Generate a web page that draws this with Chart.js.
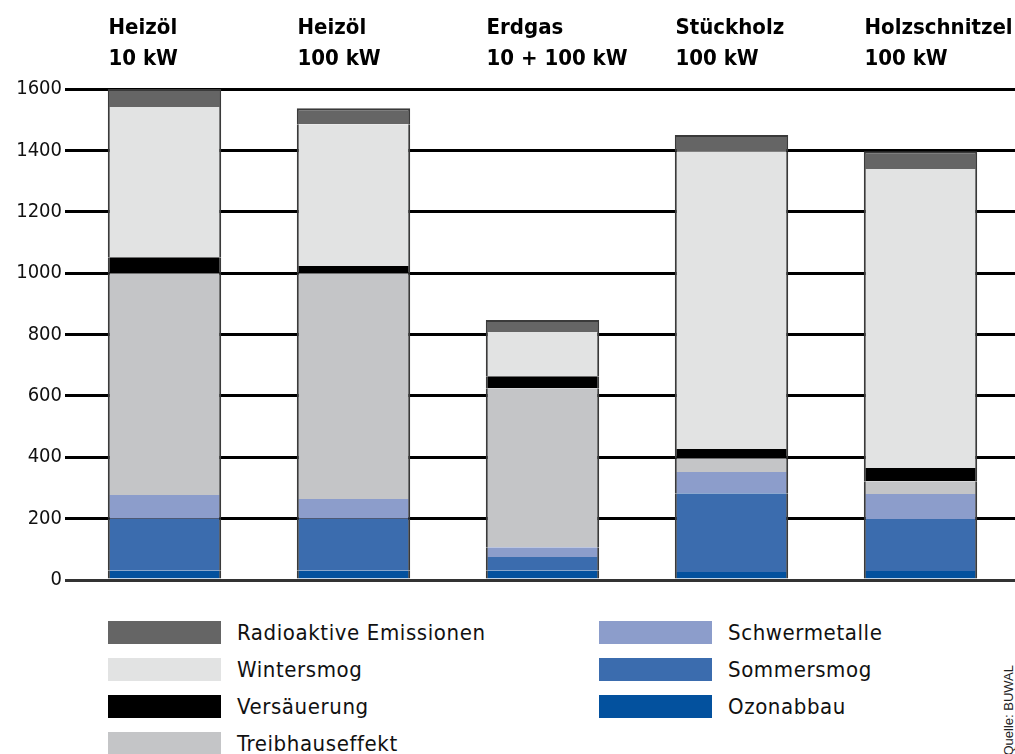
<!DOCTYPE html>
<html>
<head>
<meta charset="utf-8">
<script src="https://cdn.jsdelivr.net/npm/chart.js@4"></script>
<style>
  body { margin: 0; background: #fff; }
  #wrap { position: relative; width: 1015px; height: 754px; overflow: hidden; font-family: "DejaVu Sans Condensed", "Liberation Sans Narrow", "DejaVu Sans", sans-serif; }
  #chartBox { position: absolute; left: 0; top: 0; width: 1015px; height: 596px; }
  .item { position: absolute; display: flex; align-items: center; font-size: 22px; color: #111; letter-spacing: 0.6px; white-space: nowrap; }
  .sw { width: 113px; height: 23px; margin-right: 16px; flex: none; }
  #src { position: absolute; right: -1px; bottom: -2px; writing-mode: vertical-rl; transform: rotate(180deg); font-size: 13px; color: #222; font-family: "Liberation Sans", sans-serif; }
</style>
</head>
<body>
<div id="wrap">
  <div id="chartBox"><canvas id="barChart"></canvas></div>
  <div id="legend"></div>
  <div id="src">Quelle: BUWAL</div>
</div>
<script>
// data (0..1600)
const categories = [["Heizöl", "10 kW"], ["Heizöl", "100 kW"], ["Erdgas", "10 + 100 kW"], ["Stückholz", "100 kW"], ["Holzschnitzel", "100 kW"]];
const ozonabbau = [30, 30, 30, 26, 29];
const sommersmog = [170, 170, 45, 257, 170];
const schwermetalle = [77, 64, 32, 69, 81];
const treibhauseffekt = [723, 736, 518, 45, 42];
const versaeuerung = [52, 23, 39, 30, 43];
const wintersmog = [489, 462, 144, 970, 974];
const radioaktiv = [59, 52, 39, 53, 58];
const yTicks = [0, 200, 400, 600, 800, 1000, 1200, 1400, 1600];

// stack order bottom -> top
const series = [
  { label: "Ozonabbau", data: ozonabbau, color: "#03519e" },
  { label: "Sommersmog", data: sommersmog, color: "#3b6cae" },
  { label: "Schwermetalle", data: schwermetalle, color: "#8c9dcb" },
  { label: "Treibhauseffekt", data: treibhauseffekt, color: "#c4c5c7" },
  { label: "Versäuerung", data: versaeuerung, color: "#000000" },
  { label: "Wintersmog", data: wintersmog, color: "#e2e3e3" },
  { label: "Radioaktive Emissionen", data: radioaktiv, color: "#656565" }
];

const last = series.length - 1;
const datasets = series.map((s, i) => ({
  label: s.label,
  data: s.data,
  backgroundColor: s.color,
  borderColor: "#3a3a3a",
  borderSkipped: false,
  borderWidth: { left: 2, right: 2, top: i === last ? 2 : 0, bottom: 0 },
  categoryPercentage: 1,
  barPercentage: 0.6
}));

const fontFam = '"DejaVu Sans Condensed", "Liberation Sans Narrow", "DejaVu Sans", sans-serif';

const ctx = document.getElementById("barChart").getContext("2d");
const barChart = new Chart(ctx, {
  type: "bar",
  data: { labels: categories, datasets: datasets },
  options: {
    responsive: true,
    maintainAspectRatio: false,
    animation: false,
    layout: { padding: { top: 0, right: 0, bottom: 16, left: 0 } },
    plugins: { legend: { display: false }, tooltip: { enabled: false } },
    scales: {
      x: {
        stacked: true,
        position: "top",
        grid: { display: false, drawTicks: false },
        border: { display: false },
        ticks: {
          color: "#000",
          font: { family: fontFam, size: 22, weight: "bold", lineHeight: 1.41 },
          align: "start",
          labelOffset: -56,
          padding: 14,
          maxRotation: 0,
          autoSkip: false
        },
        afterFit: (scale) => {
          scale.height = 89;
          scale.paddingLeft = 0;
          scale.paddingRight = 0;
        }
      },
      y: {
        stacked: true,
        min: 0,
        max: 1600,
        afterBuildTicks: (scale) => { scale.ticks = yTicks.map(v => ({ value: v })); },
        grid: {
          color: (c) => c.tick && c.tick.value === 0 ? "#333" : "#000",
          lineWidth: 3,
          tickLength: 5
        },
        border: { display: false },
        ticks: {
          color: "#111",
          font: { family: fontFam, size: 20 },
          padding: 3,
          callback: (v) => String(v)
        },
        afterFit: (scale) => {
          scale.width = 70;
          scale.paddingTop = 0;
          scale.paddingBottom = 0;
        }
      }
    }
  }
});

// legend built from the same series list
const legendPos = {
  "Radioaktive Emissionen": [108, 620],
  "Wintersmog": [108, 657],
  "Versäuerung": [108, 694],
  "Treibhauseffekt": [108, 731],
  "Schwermetalle": [599, 620],
  "Sommersmog": [599, 657],
  "Ozonabbau": [599, 694]
};
const legend = document.getElementById("legend");
series.forEach(s => {
  const p = legendPos[s.label];
  const el = document.createElement("div");
  el.className = "item";
  el.style.left = p[0] + "px";
  el.style.top = p[1] + "px";
  el.innerHTML = '<span class="sw" style="background:' + s.color + '"></span><span>' + s.label + '</span>';
  legend.appendChild(el);
});
</script>
</body>
</html>
